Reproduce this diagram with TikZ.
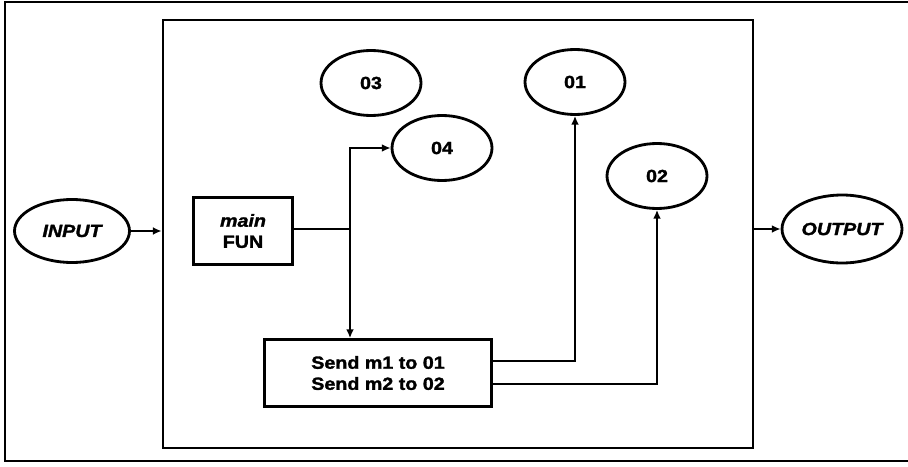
\documentclass[tikz,border=0pt]{standalone}
\usepackage{fontspec}
\setmainfont{Liberation Sans}[FakeStretch=1.12, BoldFeatures={FakeBold=1.6}, BoldItalicFeatures={FakeBold=1.6}]
\usetikzlibrary{arrows.meta,positioning,shapes.geometric}
\tikzset{
  objeto/.style = {draw, ellipse, line width=1.6pt, font=\bfseries,
                   minimum width=2cm, minimum height=1.3cm, inner sep=0pt},
  extremo/.style = {objeto, font=\bfseries\itshape, minimum width=2.3cm},
  caja/.style   = {draw, line width=1.6pt, align=center, font=\bfseries,
                   inner sep=2pt},
  flecha/.style = {-{Latex[length=5pt,width=4.5pt]}, line width=1.1pt},
}

\begin{document}
\begin{tikzpicture}[x=0.02cm, y=-0.02cm, font=\fontsize{11}{12}\selectfont]
  \useasboundingbox (0,0) rectangle (908,466);
  \draw[line width=0.8pt] (908,2) -- (5,2) -- (5,461) -- (908,461);
  \node[draw, line width=1.6pt, minimum width=11.8cm, minimum height=8.56cm] (sis) at (458,234) {};
  \node[extremo, minimum height=1.26cm] (ent) at (72,231) {INPUT};
  \node[extremo, minimum width=2.4cm, minimum height=1.36cm] (sal) at (842,229) {OUTPUT};
  \node[objeto] (o3) at (371,83)  {03};
  \node[objeto] (o4) at (442,148) {04};
  \node[objeto] (o1) at (575,82)  {01};
  \node[objeto] (o2) at (657,176) {02};
  \node[caja, minimum width=1.98cm, minimum height=1.34cm] (fun) at (243,231) {\textit{main}\\FUN};
  \node[caja, minimum width=4.54cm, minimum height=1.34cm] (envio) at (378,373) {Send m1 to 01\\Send m2 to 02};
  \coordinate (nudo) at (350,229);
  \draw[flecha] (ent.east) -- (ent.east -| sis.west);
  \draw[flecha] (sis.east |- sal.west) -- (sal.west);
  \draw[line width=1.1pt] (fun.east |- nudo) -- (nudo);
  \draw[flecha] (nudo) |- (o4.west);
  \draw[flecha] (nudo) -- (nudo |- envio.north);
  \draw[flecha] ([yshift=7pt]envio.east) -| (o1.south);
  \draw[flecha] ([yshift=-6pt]envio.east) -| (o2.south);
\end{tikzpicture}
\end{document}
